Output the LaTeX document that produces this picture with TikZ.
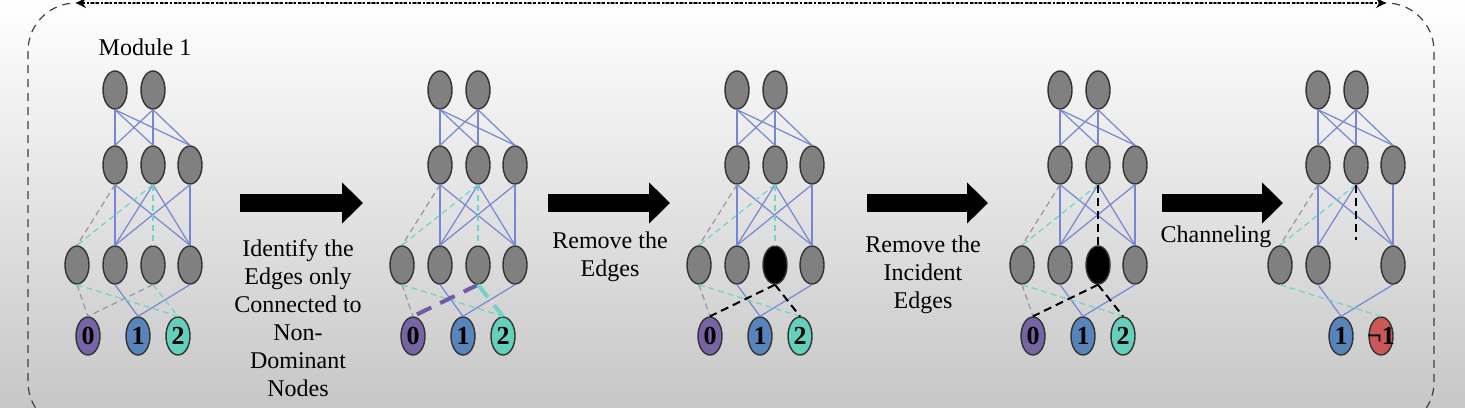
\documentclass[tikz,border=0pt]{standalone}
\usepackage{fontspec}
\setmainfont{Liberation Serif}
\usetikzlibrary{positioning, arrows.meta, shapes.geometric}

\definecolor{nodegray}{RGB}{128,128,128}
\definecolor{outzero}{RGB}{118,100,165}
\definecolor{outone}{RGB}{88,132,188}
\definecolor{outtwo}{RGB}{98,208,186}
\definecolor{outneg}{RGB}{202,88,88}
\definecolor{edgeblue}{RGB}{118,134,212}
\definecolor{dashteal}{RGB}{112,212,198}
\definecolor{dashgray}{RGB}{150,150,160}
\definecolor{hipurple}{RGB}{112,92,165}

\begin{document}
\begin{tikzpicture}[x=0.5pt, y=-0.5pt, >=Stealth,
    nd/.style={ellipse, draw=black!80, line width=0.7pt, fill=nodegray,
               minimum width=12pt, minimum height=19pt, inner sep=0pt},
    outn/.style={nd, font=\bfseries\fontsize{13}{13}\selectfont},
    w/.style={draw=edgeblue, line width=0.6pt},
    gd/.style={draw=dashgray, line width=0.6pt, dash pattern=on 3pt off 2pt},
    td/.style={draw=dashteal, line width=0.6pt, dash pattern=on 3pt off 2pt},
    bd/.style={draw=black, line width=1pt, dash pattern=on 4pt off 2.5pt},
    blk/.style={line width=9pt, -{Triangle[length=10.5pt, width=20pt]}},
    txt/.style={font=\fontsize{12}{14}\selectfont, align=center}]
  \useasboundingbox (0,0) rectangle (1465,407);
  \shade[top color=white, middle color=black!8, bottom color=black!22]
    (0,0) rectangle (1465,407);

  % frame
  \coordinate (fl) at (76,3);
  \coordinate (fr) at (1386,3);
  \draw[black!75, line width=0.6pt, dash pattern=on 4pt off 3pt,
        rounded corners=24pt] (28,3) rectangle (1434,430);
  \draw[black, line width=1.3pt, densely dotted,
        {Stealth[length=5pt,width=5pt]}-{Stealth[length=5pt,width=5pt]}] (fl) -- (fr);

  \node[font=\fontsize{12}{14}\selectfont] (title) at (145,47) {Module 1};

  % nodes of the five stages
  \foreach \i/\dx in {1/0, 2/325, 3/622, 4/945, 5/1203}{
    \node[nd] (m\i-t1) at (\dx+115,90) {};
    \node[nd] (m\i-t2) at (\dx+153,90) {};
    \node[nd] (m\i-h1) at (\dx+115,165) {};
    \node[nd] (m\i-h2) at (\dx+153,165) {};
    \node[nd] (m\i-h3) at (\dx+190,165) {};
    \node[nd] (m\i-l1) at (\dx+77,265) {};
    \node[nd] (m\i-l2) at (\dx+115,265) {};
    \node[nd] (m\i-l4) at (\dx+190,265) {};
    \node[outn, fill=outone] (m\i-o1) at (\dx+138,336) {1};
  }
  \foreach \i/\dx in {1/0, 2/325, 3/622, 4/945}{
    \node[outn, fill=outzero] (m\i-o0) at (\dx+88,336) {0};
    \node[outn, fill=outtwo] (m\i-o2) at (\dx+178,336) {2};
  }
  \node[nd] (m1-l3) at (153,265) {};
  \node[nd] (m2-l3) at (478,265) {};
  \node[nd, fill=black] (m3-l3) at (775,265) {};
  \node[nd, fill=black] (m4-l3) at (1098,265) {};
  \node[outn, fill=outneg] (m5-on) at (1381,336) {\makebox[0pt][c]{¬1}};
  \coordinate (m5-cut) at (1356,240);

  % edges shared by all stages
  \foreach \i in {1,...,5}{
    \foreach \a in {1,2}
      \foreach \b in {1,2,3}
        \draw[w] (m\i-t\a.south) -- (m\i-h\b.north);
    \draw[w] (m\i-h1.south) -- (m\i-l2.north);
    \draw[w] (m\i-h1.south) -- (m\i-l4.north);
    \draw[w] (m\i-h2.south) -- (m\i-l2.north);
    \draw[w] (m\i-h2.south) -- (m\i-l4.north);
    \draw[w] (m\i-h3.south) -- (m\i-l4.north);
    \draw[w] (m\i-l2.south) -- (m\i-o1.north);
    \draw[w] (m\i-l4.south) -- (m\i-o1.north);
    \draw[gd] (m\i-h1.south) -- (m\i-l1.north);
    \draw[td] (m\i-h2.south) -- (m\i-l1.north);
  }
  \foreach \i in {1,...,4}{
    \draw[w] (m\i-h3.south) -- (m\i-l2.north);
    \draw[gd] (m\i-l1.south) -- (m\i-o0.north);
    \draw[td] (m\i-l1.south) -- (m\i-o2.north);
  }

  % stage specific edges
  \draw[td] (m1-h2.south) -- (m1-l3.north);
  \draw[gd] (m1-l3.south) -- (m1-o0.north);
  \draw[td] (m1-l3.south) -- (m1-o2.north);
  \draw[td] (m2-h2.south) -- (m2-l3.north);
  \draw[hipurple, line width=2pt, dash pattern=on 8pt off 5pt] (m2-l3.south) -- (m2-o0.north);
  \draw[dashteal, line width=2pt, dash pattern=on 8pt off 5pt] (m2-l3.south) -- (m2-o2.north);
  \draw[td] (m3-h2.south) -- (m3-l3.north);
  \draw[bd] (m3-l3.south) -- (m3-o0.north);
  \draw[bd] (m3-l3.south) -- (m3-o2.north);
  \draw[bd] (m4-h2.south) -- (m4-l3.north);
  \draw[bd] (m4-l3.south) -- (m4-o0.north);
  \draw[bd] (m4-l3.south) -- (m4-o2.north);
  \draw[bd] (m5-h2.south) -- (m5-cut);
  \draw[td] (m5-l1.south) -- (m5-on.north);

  % steps
  \foreach \k/\xa/\xb in {1/240/363, 2/548/670, 3/867/988, 4/1162/1283}{
    \coordinate (ar\k a) at (\xa,203);
    \coordinate (ar\k b) at (\xb,203);
    \draw[blk] (ar\k a) -- (ar\k b);
  }
  \node[txt] (lab1) at (298,318) {Identify the\\Edges only\\Connected to\\Non-\\Dominant\\Nodes};
  \node[txt] (lab2) at (610,257) {Remove the\\Edges};
  \node[txt] (lab3) at (923,275) {Remove the\\Incident\\Edges};
  \node[txt] (lab4) at (1216,237) {Channeling};
\end{tikzpicture}
\end{document}
